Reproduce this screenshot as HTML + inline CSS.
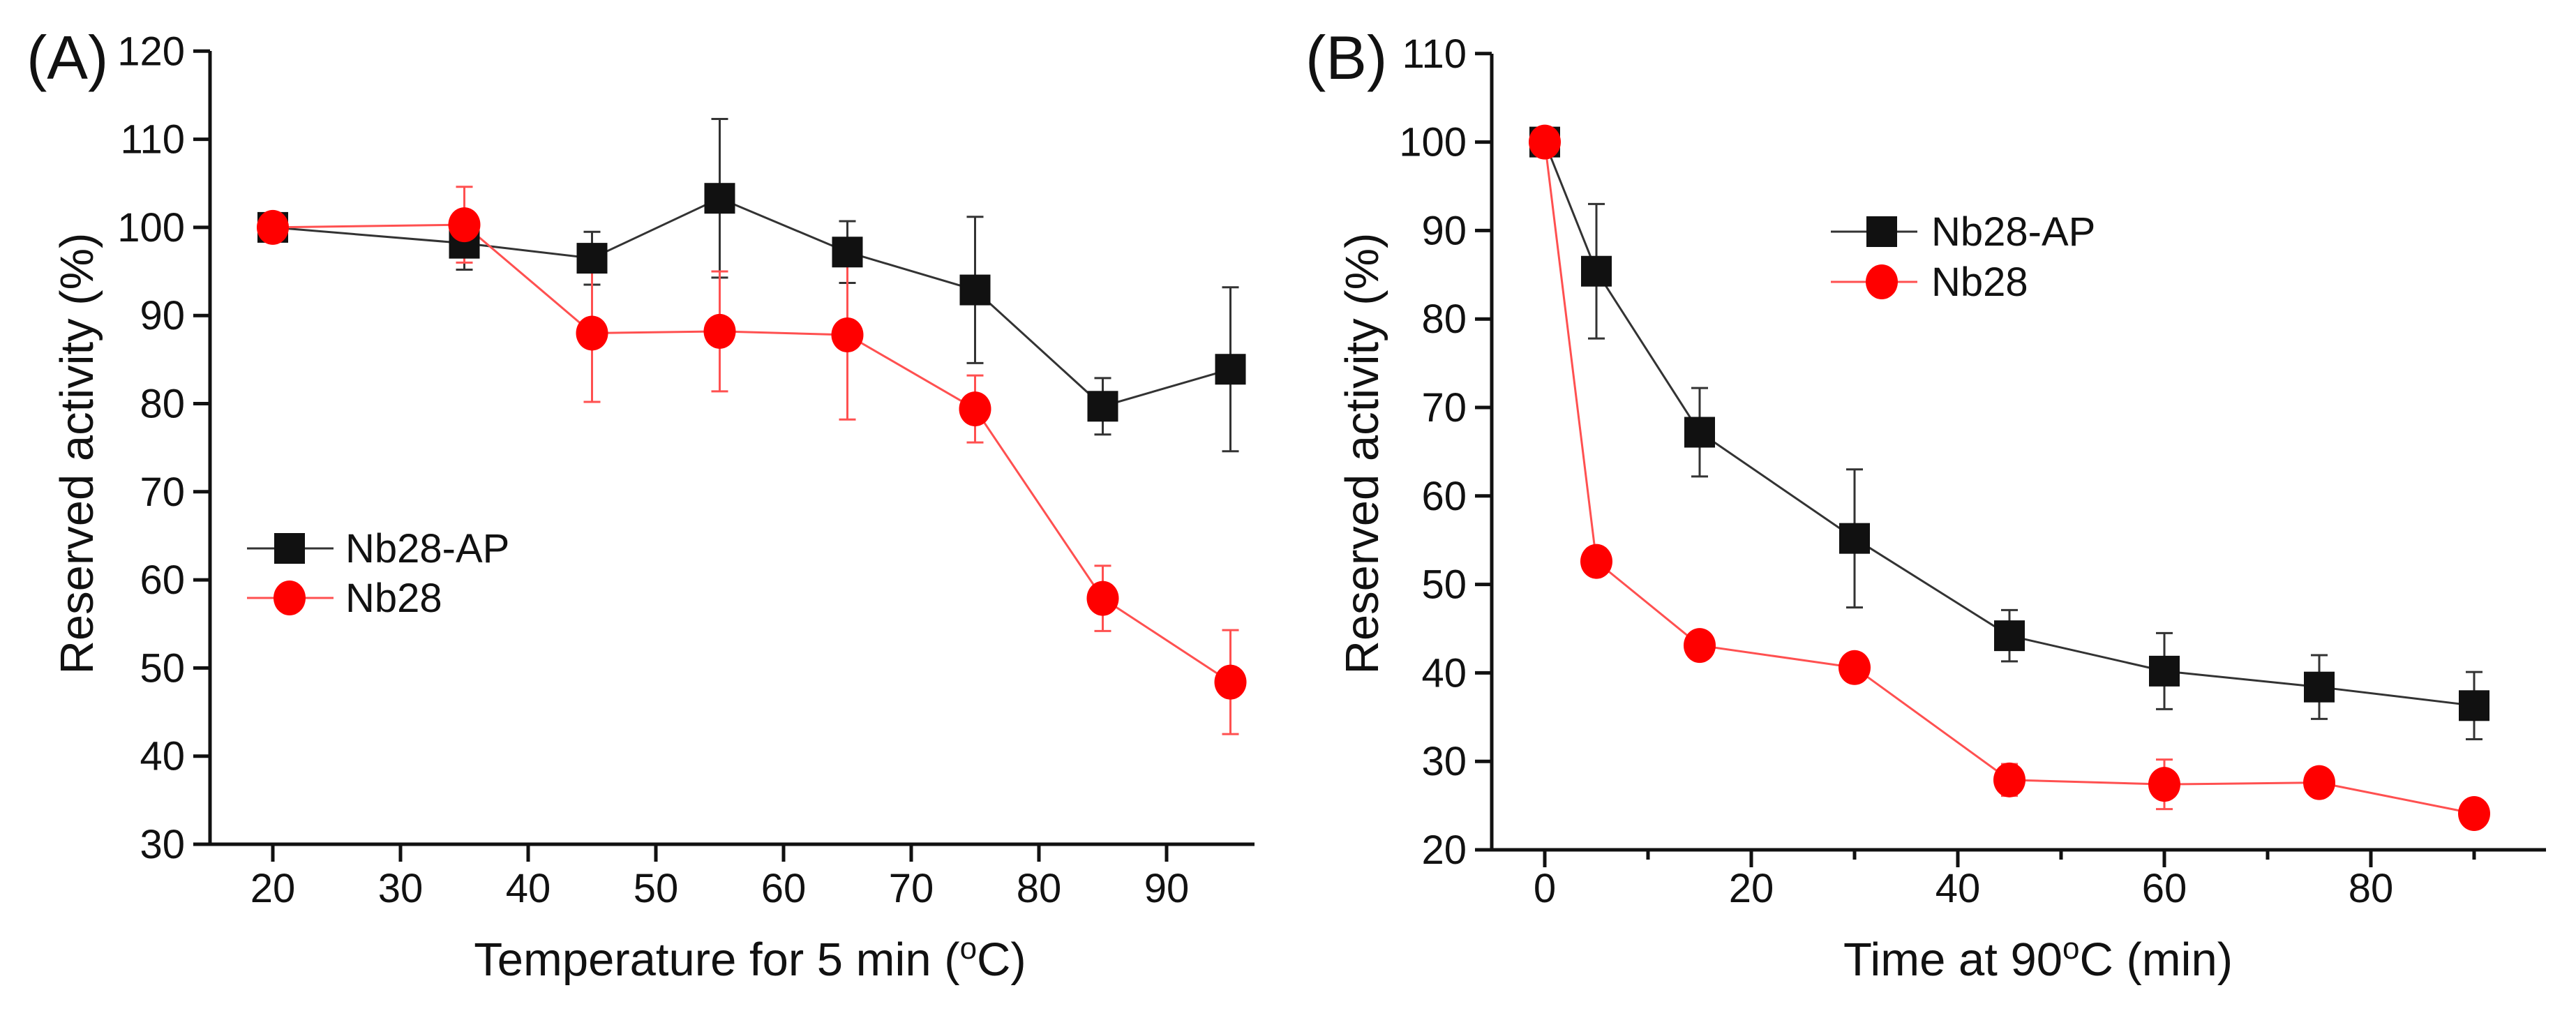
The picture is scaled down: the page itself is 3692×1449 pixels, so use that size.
<!DOCTYPE html>
<html><head><meta charset="utf-8"><style>
html,body{margin:0;padding:0;background:#fff}
svg{display:block}
text{font-family:"Liberation Sans",Arial,sans-serif;fill:#111}
</style></head><body>
<svg id="fig" width="3692" height="1449" viewBox="0 0 3692 1449" xmlns="http://www.w3.org/2000/svg"></svg>
<script>
// Panel A data
const tempA = [20,35,45,55,65,75,85,95];
const apA = [100,98.2,96.5,103.3,97.2,92.9,79.7,83.9];
const apErrA = [1.5,3,3,9,3.5,8.3,3.2,9.3];
const nbA = [100,100.3,88,88.2,87.8,79.4,57.9,48.4];
const nbErrA = [0.5,4.3,7.8,6.8,9.6,3.8,3.7,5.9];
const xTicksA = [20,30,40,50,60,70,80,90];
const yTicksA = [30,40,50,60,70,80,90,100,110,120];
// Panel B data
const timeB = [0,5,15,30,45,60,75,90];
const apB = [100,85.4,67.2,55.2,44.2,40.2,38.4,36.3];
const apErrB = [1,7.6,5,7.8,2.9,4.3,3.6,3.8];
const nbB = [100,52.6,43.1,40.6,27.9,27.4,27.6,24.1];
const nbErrB = [0,0,1.5,1.5,1.8,2.8,0,0];
const xTicksB = [0,20,40,60,80];
const xMinorB = [10,30,50,70,90];
const yTicksB = [20,30,40,50,60,70,80,90,100,110];

const NS="http://www.w3.org/2000/svg";
const svg=document.getElementById('fig');
function mk(tag,attrs,parent){const e=document.createElementNS(NS,tag);for(const k in attrs)e.setAttribute(k,attrs[k]);(parent||svg).appendChild(e);return e;}

function panel(cfg){
  const g=mk('g',{});
  
  
  const X=v=>cfg.x0+(v-cfg.xv0)*cfg.xs;
  const Y=v=>cfg.y0-(v-cfg.yv0)*cfg.ys;
  // axes
  const ax=mk('path',{d:`M${cfg.ax} ${cfg.top} V${cfg.base} H${cfg.right}`,stroke:'#111','stroke-width':5,fill:'none'},g);
  
  
  cfg.yt.forEach(v=>{
    mk('line',{x1:cfg.ax-24,x2:cfg.ax,y1:Y(v),y2:Y(v),stroke:'#111','stroke-width':5},g);
    const t=mk('text',{x:cfg.ax-36,y:Y(v)+20,'font-size':58,'text-anchor':'end'},g);
    t.textContent=v;
    
    
  });
  cfg.xt.forEach(v=>{
    mk('line',{x1:X(v),x2:X(v),y1:cfg.base,y2:cfg.base+25,stroke:'#111','stroke-width':5},g);
    const t=mk('text',{x:X(v),y:1293,'font-size':58,'text-anchor':'middle'},g);
    t.textContent=v;
    
    
  });
  (cfg.xm||[]).forEach(v=>{
    mk('line',{x1:X(v),x2:X(v),y1:cfg.base,y2:cfg.base+14,stroke:'#111','stroke-width':5},g);
  });
  // series
  const series=[
    {v:cfg.ap,e:cfg.apE,c:'#111',lc:'#333',shape:'sq',name:'nb28-ap'},
    {v:cfg.nb,e:cfg.nbE,c:'#ff0000',lc:'#ff5050',shape:'ci',name:'nb28'}];
  series.forEach(s=>{
    const pts=cfg.xs_.map((x,i)=>X(x)+','+Y(s.v[i])).join(' ');
    const pl=mk('polyline',{points:pts,fill:'none',stroke:s.lc,'stroke-width':3},g);
    
    
    cfg.xs_.forEach((x,i)=>{
      if(s.e[i]>0){
        const px=X(x),y1=Y(s.v[i]+s.e[i]),y2=Y(s.v[i]-s.e[i]);
        mk('path',{d:`M${px} ${y1} V${y2} M${px-12} ${y1} H${px+12} M${px-12} ${y2} H${px+12}`,stroke:s.lc,'stroke-width':3,fill:'none'},g);
      }
    });
  });
  series.forEach(s=>{
    cfg.xs_.forEach((x,i)=>{
      let m;
      if(s.shape==='sq') m=mk('rect',{x:X(x)-22,y:Y(s.v[i])-22,width:44,height:44,fill:s.c},g);
      else m=mk('ellipse',{cx:X(x),cy:Y(s.v[i]),rx:23,ry:25,fill:s.c},g);
      
      
    });
  });
  // legend
  const lg=mk('g',{},g);
  
  
  const L=cfg.leg;
  mk('line',{x1:L.x1,x2:L.x2,y1:L.y1,y2:L.y1,stroke:'#333','stroke-width':3},lg);
  mk('rect',{x:L.mx-22,y:L.y1-22,width:44,height:44,fill:'#111'},lg);
  const t1=mk('text',{x:L.tx,y:L.y1+20,'font-size':58},lg);t1.textContent='Nb28-AP';
  
  
  mk('line',{x1:L.x1,x2:L.x2,y1:L.y2,y2:L.y2,stroke:'#ff5050','stroke-width':3},lg);
  mk('ellipse',{cx:L.mx,cy:L.y2,rx:23,ry:25,fill:'#ff0000'},lg);
  const t2=mk('text',{x:L.tx,y:L.y2+20,'font-size':58},lg);t2.textContent='Nb28';
  
  
  // titles
  const yt=mk('text',{x:0,y:0,'font-size':67,'text-anchor':'middle',transform:`translate(${cfg.ytx},${cfg.yty}) rotate(-90)`},g);
  yt.textContent='Reserved activity (%)';
  
  
  const xt=mk('text',{x:cfg.xtx,y:1398,'font-size':67,'text-anchor':'middle'},g);
  xt.innerHTML=cfg.xtitle;
  
  
  const pl=mk('text',{x:cfg.plx,y:113,'font-size':88},g);
  pl.textContent=cfg.label;
  
  
}

panel({name:'panel-a',ax:301,top:73,base:1210,right:1798,x0:391,xv0:20,xs:18.3,y0:1210,yv0:30,ys:12.63,
  xt:xTicksA,yt:yTicksA,xs_:tempA,ap:apA,apE:apErrA,nb:nbA,nbE:nbErrA,
  leg:{x1:354,x2:478,mx:415,tx:495,y1:786,y2:857},ytx:133,yty:650,xtx:1075,
  xtitle:'Temperature for 5 min (<tspan baseline-shift="super" font-size="44">o</tspan>C)',plx:38,label:'(A)'});
panel({name:'panel-b',ax:2138,top:77,base:1218,right:3649,x0:2214,xv0:0,xs:14.8,y0:1218,yv0:20,ys:12.68,
  xt:xTicksB,xm:xMinorB,yt:yTicksB,xs_:timeB,ap:apB,apE:apErrB,nb:nbB,nbE:nbErrB,
  leg:{x1:2624,x2:2748,mx:2697,tx:2768,y1:332,y2:404},ytx:1975,yty:650,xtx:2921,
  xtitle:'Time at 90<tspan baseline-shift="super" font-size="44">o</tspan>C (min)',plx:1871,label:'(B)'});
</script>
</body></html>
